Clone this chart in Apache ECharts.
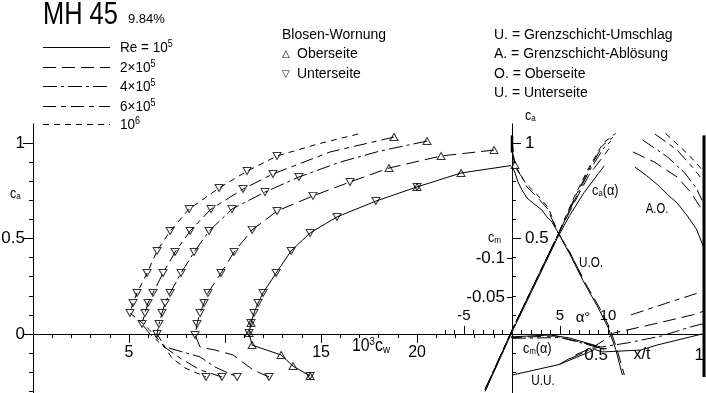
<!DOCTYPE html>
<html><head><meta charset="utf-8">
<script src="https://cdn.jsdelivr.net/npm/echarts@6/dist/echarts.min.js"></script>
<style>html,body{margin:0;padding:0;background:#fff}#c{width:706px;height:393px}</style>
</head><body><div id="c"></div>
<script>
// ---------- data ----------
const reNames = ['Re = 10', '2×10', '4×10', '6×10', '10'];
const reExp = ['5', '5', '5', '5', '6'];
const reDash = ['solid', [13, 6], [14, 4, 3, 4], [13, 5, 5, 5], [6, 5]];

// polar: [10^3 c_w, c_a]
const polarRe1e5 = [[25.1,0.885],[22.29,0.843],[20.0,0.770],[17.86,0.696],[15.83,0.613],[14.43,0.529],[13.44,0.435],[12.66,0.319],[11.98,0.215],[11.72,0.162],[11.51,0.110],[11.35,0.058],[11.25,0.005],[11.41,-0.058],[12.92,-0.110],[13.54,-0.168],[14.43,-0.220]];
const polarRe2e5 = [[24.01,0.963],[21.25,0.932],[18.54,0.869],[16.51,0.796],[14.58,0.723],[12.71,0.644],[11.41,0.545],[10.47,0.429],[9.79,0.319],[9.11,0.215],[8.91,0.162],[8.70,0.110],[8.54,0.052],[8.44,-0.005],[8.70,-0.068],[9.48,-0.084],[10.42,-0.110],[11.46,-0.188],[12.29,-0.225]];
const polarRe4e5 = [[20.52,1.010],[18.07,0.958],[15.99,0.900],[13.85,0.822],[12.08,0.743],[10.36,0.654],[9.17,0.539],[8.39,0.429],[7.71,0.319],[7.14,0.215],[6.88,0.162],[6.72,0.110],[6.56,0.052],[6.46,0.0],[6.88,-0.068],[8.70,-0.120],[9.48,-0.173],[10.63,-0.225]];
const polarRe6e5 = [[18.80,1.031],[15.47,0.953],[12.50,0.838],[10.94,0.759],[9.27,0.654],[8.18,0.539],[7.40,0.429],[6.77,0.319],[6.25,0.215],[5.99,0.162],[5.83,0.110],[5.68,0.052],[6.09,0.0],[6.77,-0.063],[7.66,-0.126],[8.70,-0.188],[9.84,-0.225]];
const polarRe1e6 = [[16.93,1.047],[14.84,0.995],[12.71,0.932],[11.15,0.853],[9.69,0.764],[8.13,0.654],[7.14,0.539],[6.46,0.435],[5.94,0.319],[5.42,0.215],[5.21,0.162],[5.05,0.110],[5.83,0.047],[6.35,-0.010],[6.77,-0.058],[7.24,-0.126],[7.92,-0.178],[9.01,-0.225]];

// bubble warning marks (indices into the polar arrays)
const upIdx1e5 = [0,1,2,11,12,13,14,15,16];
const downIdx1e5 = [2,3,4,5,6,7,8,9,10,11,12,16];
const upIdx2e5 = [0,1,2];
const downIdx2e5 = [3,4,5,6,7,8,9,10,11,12,13,18];
const upIdx4e5 = [0];
const downIdx4e5 = [3,4,5,6,7,8,9,10,11,12,13,17];
const upIdx6e5 = [0];
const downIdx6e5 = [2,3,4,5,6,7,8,9,10,11,16];
const upIdx1e6 = [];
const downIdx1e6 = [2,3,4,5,6,7,8,9,10,11,17];

// c_a(alpha): [alpha deg, c_a]
const clAlpha1e5 = [[-2.8,-0.30],[0,0.01],[2.5,0.27],[4.7,0.50],[6,0.62],[7.5,0.74],[9,0.84],[9.6,0.88]];
const clAlpha2e5 = [[-2.8,-0.30],[0,0.02],[4.7,0.51],[6.5,0.69],[8,0.83],[9.5,0.93],[10.1,0.97]];
const clAlpha4e5 = [[-2.8,-0.29],[0,0.02],[4.7,0.51],[6.5,0.70],[8,0.85],[9.5,0.97],[10.3,1.01]];
const clAlpha6e5 = [[-2.8,-0.29],[0,0.02],[4.7,0.51],[6.5,0.71],[8,0.86],[9.5,0.99],[10.5,1.03]];
const clAlpha1e6 = [[-2.8,-0.29],[0,0.02],[4.7,0.51],[6.5,0.72],[8,0.87],[9.5,1.00],[10.8,1.05]];

// c_m(alpha): [alpha deg, c_m]
const cmAlpha1e5 = [[-2.3,0.0026],[-0.4,0.0013],[4,-0.0013],[6,0.0026],[7.8,0.009],[9.2,0.014]];
const cmAlpha2e5 = [[-2.3,0.0035],[0,0.002],[4.5,0.0],[6.5,0.006],[8.5,0.012],[9.4,0.016]];
const cmAlpha4e5 = [[0,0.003],[5,0.002],[7,0.008],[9,0.015],[9.6,0.018]];

// transition upper side U.O.: [x/t, c_a]
const uoRe1e5 = [[0,0.88],[0.016,0.843],[0.031,0.796],[0.052,0.754],[0.078,0.712],[0.109,0.686],[0.156,0.649],[0.182,0.613],[0.208,0.586],[0.235,0.54],[0.30,0.42],[0.37,0.28],[0.45,0.135],[0.50,0.035],[0.54,-0.08],[0.575,-0.215]];
const uoRe2e5 = [[0,0.96],[0.026,0.859],[0.052,0.822],[0.078,0.77],[0.104,0.743],[0.135,0.712],[0.182,0.66],[0.235,0.54],[0.31,0.41],[0.38,0.27],[0.46,0.13],[0.51,0.03],[0.55,-0.09],[0.585,-0.215]];
const uoRe1e6 = [[0,1.04],[0.01,0.90],[0.04,0.84],[0.07,0.79],[0.10,0.76],[0.14,0.72],[0.19,0.66],[0.235,0.54],[0.30,0.43],[0.37,0.29]];
const uoLeadingEdge = [[0,0.95],[0,1.04]];
// separation upper side A.O.
const aoRe1e5 = [[0.64,0.874],[0.70,0.83],[0.76,0.78],[0.81,0.73],[0.86,0.686],[0.917,0.613],[0.96,0.55],[0.99,0.476],[1.0,0.45]];
const aoRe2e5 = [[0.63,0.953],[0.74,0.901],[0.86,0.822],[0.93,0.743],[0.98,0.665],[1.0,0.62]];
const aoRe4e5 = [[0.68,1.016],[0.81,0.927],[0.90,0.843],[0.96,0.764],[0.99,0.70]];
const aoRe6e5 = [[0.745,1.047],[0.86,0.963],[0.94,0.874],[0.98,0.822]];
const aoRe1e6 = [[0.80,1.05],[0.91,0.948],[0.96,0.895],[0.99,0.859]];
// transition lower side U.U.
const uuRe1e5 = [[0,-0.215],[0.245,-0.16],[0.40,-0.095],[0.43,-0.08],[0.47,-0.094],[0.67,-0.084],[0.755,-0.058],[0.99,0.0]];
const uuRe2e5 = [[0.245,-0.16],[0.33,-0.11],[0.42,-0.07],[0.50,-0.02],[0.53,0.005],[0.75,0.055],[0.94,0.10],[1.0,0.12]];
const uuRe4e5 = [[0.30,-0.13],[0.42,-0.075],[0.60,-0.047],[0.78,-0.01],[0.93,0.037],[1.0,0.055]];
const uuRe6e5 = [[0.62,0.10],[0.80,0.16],[0.97,0.215]];
const trailingEdge = [[1,-0.225],[1,1.04]];

// ticks
const cwTicksMinor = [1,2,3,4,6,7,8,9,11,12,13,14,16,17,18,19,21,22,23,24];
const cwTicksMajor = [5,10,15,20];
const cwLabels = [5,15,20];
const clTicksMinorL = [-0.3,-0.2,-0.1,0.1,0.2,0.3,0.4,0.6,0.7,0.8,0.9];
const clTicksMajorL = [0,0.5,1];
const clTicksMinorR = [-0.2,-0.1,0.1,0.2,0.3,0.4,0.6,0.7,0.8,0.9];
const clTicksMajorR = [0.5,1];
const alphaTicksMinor = [-7,-6,-4,-3,-2,-1,1,2,3,4,6,7,8,9,11,12];
const alphaTicksMajor = [-5,5,10];
const cmTicks = [-0.1,-0.05];
const xtLabels = [0.5,1];

// ---------- chart ----------
const FR = '"Liberation Sans",Arimo,"DejaVu Sans",sans-serif';
const K = '#000';

function ln(data, dash, xi, yi, w) {
  return {type:'line', data:data, xAxisIndex:xi, yAxisIndex:yi, symbol:'none', silent:true, clip:false,
    lineStyle:{color:K, width:w||1, type:dash}};
}
function pick(curve, idx) { return idx.map(i => curve[i]); }
const polars = [polarRe1e5, polarRe2e5, polarRe4e5, polarRe6e5, polarRe1e6];
const ups = [upIdx1e5, upIdx2e5, upIdx4e5, upIdx6e5, upIdx1e6];
const downs = [downIdx1e5, downIdx2e5, downIdx4e5, downIdx6e5, downIdx1e6];
let upData = [], downData = [];
polars.forEach((c, i) => { upData = upData.concat(pick(c, ups[i])); downData = downData.concat(pick(c, downs[i])); });

const series = [];
polars.forEach((c, i) => series.push(ln(c, reDash[i], 0, 0)));
const mk = {color:'rgba(0,0,0,0)', borderColor:K, borderWidth:1};
series.push({type:'scatter', data:downData, xAxisIndex:0, yAxisIndex:0, symbol:'triangle', symbolRotate:180, symbolSize:[8,7], itemStyle:mk, silent:true, clip:false});
series.push({type:'scatter', data:upData, xAxisIndex:0, yAxisIndex:0, symbol:'triangle', symbolSize:[8,7], itemStyle:mk, silent:true, clip:false});
[clAlpha1e5, clAlpha2e5, clAlpha4e5, clAlpha6e5, clAlpha1e6].forEach((c, i) => series.push(ln(c, reDash[i], 2, 2)));
[cmAlpha1e5, cmAlpha2e5, cmAlpha4e5].forEach((c, i) => series.push(ln(c, reDash[i], 4, 4)));
series.push(ln(uoRe1e5, reDash[0], 5, 5));
series.push(ln(uoRe2e5, reDash[1], 5, 5));
series.push(ln(uoRe1e6, reDash[4], 5, 5));
series.push(ln(uoLeadingEdge, 'solid', 5, 5, 2.5));
[aoRe1e5, aoRe2e5, aoRe4e5, aoRe6e5, aoRe1e6].forEach((c, i) => series.push(ln(c, reDash[i], 5, 5)));
series.push(ln(uuRe1e5, reDash[0], 5, 5));
series.push(ln(uuRe2e5, reDash[1], 5, 5));
series.push(ln(uuRe4e5, reDash[2], 5, 5));
series.push(ln(uuRe6e5, reDash[3], 5, 5));
series.push(ln(trailingEdge, 'solid', 5, 5, 3));

const lbl = (o) => Object.assign({color:K, fontFamily:FR, fontSize:16}, o);
const tk = (o) => Object.assign({show:true, lineStyle:{color:K, width:1}}, o);
const axLine = (show) => ({show:show, onZero:false, lineStyle:{color:K, width:1}});
const noSplit = {show:false};
const X_OFF = -95.5;  // moves bottom axes up to c_a = 0
const Y_OFF = -96;    // moves left axis of the alpha grid to alpha = 0

const xAxis = [
  {gridIndex:0, type:'value', min:0, max:24.84, position:'bottom', offset:X_OFF, axisLine:axLine(true), axisTick:tk({customValues:cwTicksMinor, length:4}), axisLabel:{show:false}, splitLine:noSplit},
  {gridIndex:0, type:'value', min:0, max:24.84, position:'bottom', offset:X_OFF, axisLine:axLine(false), axisTick:tk({customValues:cwTicksMajor, length:9}), axisLabel:lbl({customValues:cwLabels, margin:11}), splitLine:noSplit},
  {gridIndex:1, type:'value', min:-10, max:12, position:'bottom', offset:X_OFF, axisLine:axLine(true), axisTick:tk({customValues:alphaTicksMinor, length:4, inside:true}), axisLabel:{show:false}, splitLine:noSplit},
  {gridIndex:1, type:'value', min:-10, max:12, position:'bottom', offset:X_OFF, axisLine:axLine(false), axisTick:tk({customValues:alphaTicksMajor, length:8, inside:true}), axisLabel:lbl({customValues:alphaTicksMajor, inside:true, margin:11, fontSize:15}), splitLine:noSplit},
  {gridIndex:2, type:'value', min:0, max:12, show:false},
  {gridIndex:3, type:'value', min:0, max:1, position:'bottom', offset:X_OFF, axisLine:axLine(true), axisTick:{show:false}, axisLabel:lbl({customValues:xtLabels, align:'right', margin:13, fontSize:17}), splitLine:noSplit}
];
const yAxis = [
  {gridIndex:0, type:'value', min:-0.5, max:1.1, position:'left', axisLine:axLine(true), axisTick:tk({customValues:clTicksMinorL, length:4}), axisLabel:{show:false}, splitLine:noSplit},
  {gridIndex:0, type:'value', min:-0.5, max:1.1, position:'left', axisLine:axLine(false), axisTick:tk({customValues:clTicksMajorL, length:10}), axisLabel:lbl({customValues:clTicksMajorL, margin:8, fontSize:17}), splitLine:noSplit},
  {gridIndex:1, type:'value', min:-0.5, max:1.1, position:'left', offset:Y_OFF, axisLine:axLine(true), axisTick:tk({customValues:clTicksMinorR, length:4, inside:true}), axisLabel:{show:false}, splitLine:noSplit},
  {gridIndex:1, type:'value', min:-0.5, max:1.1, position:'left', offset:Y_OFF, axisLine:axLine(false), axisTick:tk({customValues:clTicksMajorR, length:9, inside:true}), axisLabel:lbl({customValues:clTicksMajorR, inside:true, margin:13, fontSize:17}), splitLine:noSplit},
  {gridIndex:2, type:'value', min:-0.3, max:0.1, inverse:true, position:'left', axisLine:axLine(false), axisTick:tk({customValues:cmTicks, length:5}), axisLabel:lbl({customValues:cmTicks, margin:7, fontSize:17}), splitLine:noSplit},
  {gridIndex:3, type:'value', min:-0.5, max:1.1, show:false}
];

function txt(x, y, text, size, sx, align, rich) {
  const st = {text:text, x:0, y:0, fill:K, fontSize:size, fontFamily:FR,
    align:align||'left', textAlign:align||'left', verticalAlign:'middle', textVerticalAlign:'middle'};
  if (rich) st.rich = rich;
  return {type:'text', silent:true, x:x, y:y, scaleX:sx||1, style:st};
}
const supRich = (big, small) => ({
  b:{fontSize:big, fontFamily:FR, fill:K},
  s:{fontSize:small, fontFamily:FR, fill:K, padding:[0,0,Math.round(big*0.45),0]},
  d:{fontSize:small, fontFamily:FR, fill:K, padding:[Math.round(big*0.4),0,0,0]}
});
const SYM = '"DejaVu Sans",sans-serif';

const graphic = [
  txt(43, 15, 'MH 45', 31, 0.82),
  txt(128, 19, '9.84%', 13, 1),
  txt(282, 35, 'Blosen-Wornung', 14, 1),
  {type:'text', silent:true, x:282, y:54, style:{text:'△', x:0, y:0, fill:K, fontSize:10, fontFamily:SYM, verticalAlign:'middle', textVerticalAlign:'middle'}},
  txt(297, 54, 'Oberseite', 14, 1),
  {type:'text', silent:true, x:282, y:74, style:{text:'▽', x:0, y:0, fill:K, fontSize:10, fontFamily:SYM, verticalAlign:'middle', textVerticalAlign:'middle'}},
  txt(297, 74, 'Unterseite', 14, 1),
  txt(494, 35, 'U. = Grenzschicht-Umschlag', 14, 1),
  txt(494, 54, 'A. = Grenzschicht-Ablösung', 14, 1),
  txt(494, 74, 'O. = Oberseite', 14, 1),
  txt(494, 93, 'U. = Unterseite', 14, 1),
  txt(10, 194, '{b|c}{d|a}', 14, 0.9, 'left', supRich(14, 9)),
  txt(525, 116, '{b|c}{d|a}', 14, 0.9, 'left', supRich(14, 9)),
  txt(488, 238, '{b|c}{d|m}', 14, 0.9, 'left', supRich(14, 9)),
  txt(352, 346, '{b|10}{s|3}{b|c}{d|w}', 18, 0.88, 'left', supRich(18, 11)),
  txt(591, 263, 'U.O.', 15, 0.78, 'center'),
  txt(657, 209, 'A.O.', 15, 0.75, 'center'),
  txt(592, 191, '{b|c}{d|a}{b|(α)}', 15, 0.85, 'left', supRich(15, 9)),
  txt(523, 349, '{b|c}{d|m}{b|(α)}', 15, 0.85, 'left', supRich(15, 9)),
  txt(642, 355, 'x/t', 16, 1, 'center'),
  txt(543, 381, 'U.U.', 15, 0.78, 'center'),
  txt(583, 318, 'α°', 15, 1, 'center')
];
const legendY = [47.5, 67.5, 86.5, 106.5, 124.5];
reNames.forEach((n, i) => {
  graphic.push({type:'line', silent:true, shape:{x1:43, y1:legendY[i], x2:110, y2:legendY[i]},
    style:{stroke:K, lineWidth:1, lineDash:(reDash[i] === 'solid' ? null : reDash[i])}});
  graphic.push(txt(120, legendY[i], '{b|' + n + '}{s|' + reExp[i] + '}', 15, 0.9, 'left', supRich(15, 10)));
});

const chart = echarts.init(document.getElementById('c'), null, {renderer:'canvas'});
chart.setOption({
  animation:false,
  backgroundColor:'#fff',
  grid:[
    {left:33, top:123.9, width:477, height:305.6, containLabel:false, outerBoundsMode:'none'},
    {left:416, top:123.9, width:211.2, height:305.6, containLabel:false, outerBoundsMode:'none'},
    {left:512, top:102, width:115.2, height:312, containLabel:false, outerBoundsMode:'none'},
    {left:512, top:123.9, width:192, height:305.6, containLabel:false, outerBoundsMode:'none'}
  ],
  xAxis:xAxis,
  yAxis:yAxis,
  series:series,
  graphic:graphic
});
</script></body></html>
